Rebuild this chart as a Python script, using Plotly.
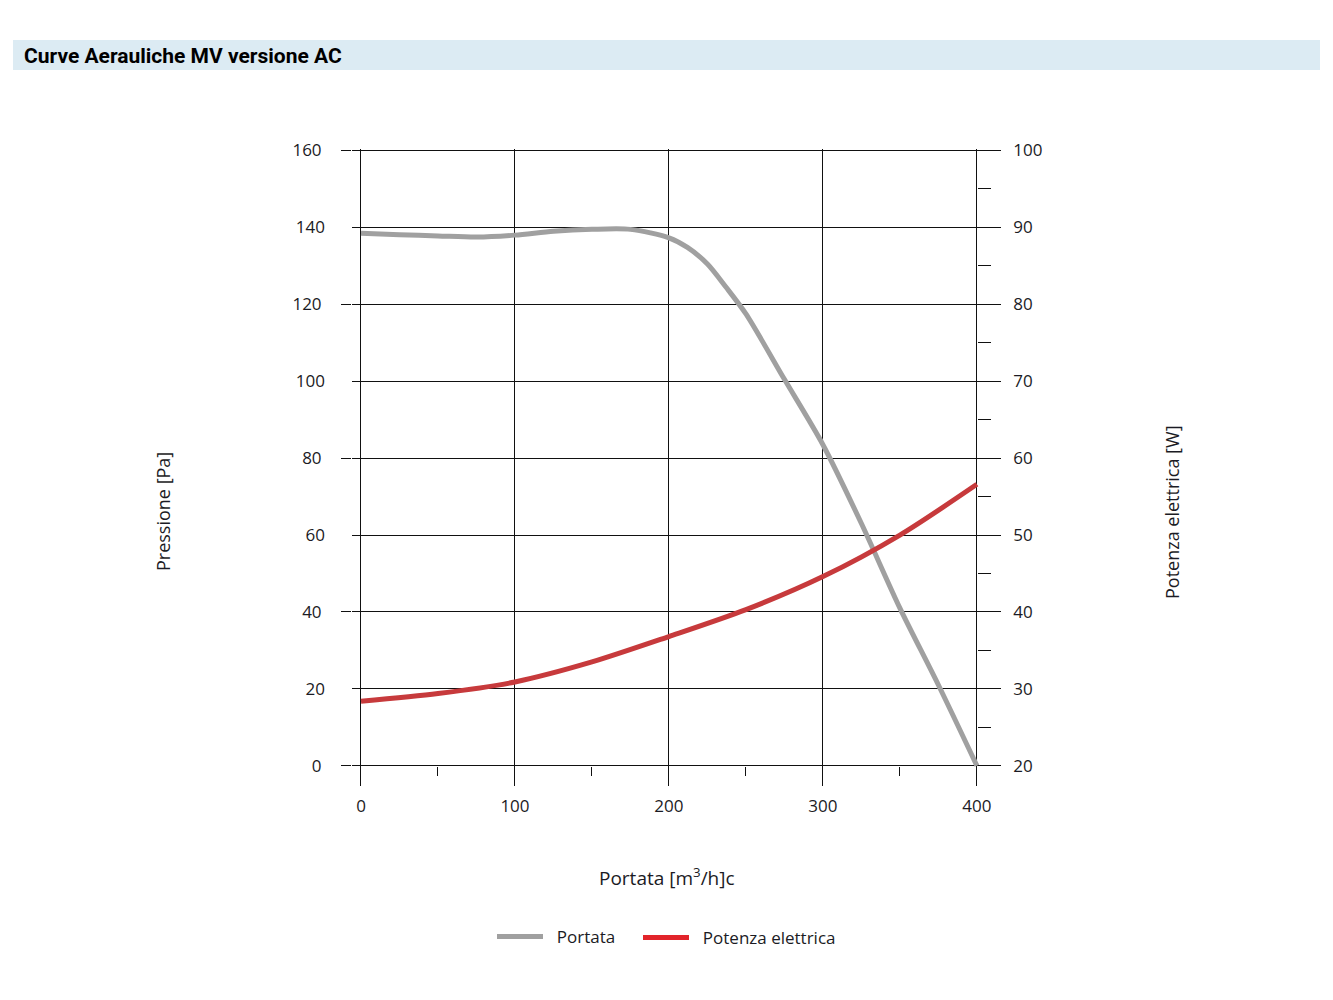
import plotly.graph_objects as go

# portata curve (pressione, Pa) and potenza elettrica (W) vs portata m3/h
flow_p = [0, 25, 50, 75, 100, 125, 150, 175, 200, 212, 225, 237, 250, 275, 300, 325, 350, 375, 400]
pressione = [138.5, 138.1, 137.8, 137.5, 138, 139, 139.5, 139.5, 137.3, 134.8, 130.5, 124.5, 117.5,
             100.5, 83.5, 63, 41, 21, 0]

flow_w = [0, 50, 100, 150, 200, 250, 300, 350, 400]
potenza = [28.4, 29.4, 30.9, 33.5, 36.8, 40.3, 44.6, 50, 56.6]

x_ticks = [0, 100, 200, 300, 400]
x_minor = [50, 150, 250, 350]
y_long_ticks = [0, 40, 80, 120, 160]
y_short_ticks = [20, 60, 100, 140]
y2_ticks = [20, 30, 40, 50, 60, 70, 80, 90, 100]

xr = [-5.84, 415]
yr = [-5, 160.4]
y2r = [20 + yr[0] / 2, 20 + yr[1] / 2]

font = "Open Sans"
txt = "#1b1b24"
ink = "#111"

# page is offset 8px by the browser body margin
W, H = 1325, 992
L, T, PW, PH = 344, 141, 648, 636


def px(x):
    return (x - 8 - L) / PW


def py(y):
    return (T + PH - (y - 8)) / PH


fig = go.Figure()
fig.add_trace(go.Scatter(
    x=flow_p, y=pressione, name="Portata", mode="lines", showlegend=False,
    line=dict(color="#a0a0a0", width=5, shape="spline", smoothing=0.8),
))
fig.add_trace(go.Scatter(
    x=flow_w, y=potenza, name="Potenza elettrica", mode="lines", yaxis="y2", showlegend=False,
    line=dict(color="#c73a3c", width=5, shape="spline", smoothing=0.8),
))
# legend swatches (the first also carries the short-tick left axis)
fig.add_trace(go.Scatter(x=[None], y=[None], name="\u00a0\u00a0Portata", mode="lines", yaxis="y3",
                         line=dict(color="#a0a0a0", width=5), legend="legend"))
fig.add_trace(go.Scatter(x=[None], y=[None], name="\u00a0\u00a0Potenza elettrica", mode="lines",
                         line=dict(color="#e2242b", width=5), legend="legend2"))

fig.update_layout(
    width=W, height=H,
    margin=dict(l=L, r=W - L - PW, t=T, b=H - T - PH),
    paper_bgcolor="white", plot_bgcolor="white",
    font=dict(family=font, size=17, color=txt),
    xaxis=dict(
        range=xr, tickvals=x_ticks, showgrid=True, gridcolor=ink, gridwidth=1.3,
        zeroline=False, showline=False,
        anchor="free", position=(0 - yr[0]) / (yr[1] - yr[0]),
        ticks="outside", ticklen=19, tickcolor=ink, tickwidth=1.3,
        minor=dict(tickvals=x_minor, ticks="outside", ticklen=9,
                   tickcolor=ink, tickwidth=1.3),
        ticklabelstandoff=6,
    ),
    yaxis=dict(
        range=yr, tickvals=y_long_ticks, showgrid=True, gridcolor=ink, gridwidth=1.3,
        zeroline=False, showline=False, ticks="outside", ticklen=10,
        tickcolor=ink, tickwidth=1.3, ticklabelstandoff=16,
    ),
    yaxis3=dict(
        range=yr, tickvals=y_short_ticks, overlaying="y", side="left", anchor="x",
        showgrid=True, gridcolor=ink, gridwidth=1.3, zeroline=False, showline=False,
        ticks="", ticklabelstandoff=26,
    ),
    yaxis2=dict(
        range=y2r, tickvals=y2_ticks, overlaying="y", side="right",
        anchor="free", position=(400 - xr[0]) / (xr[1] - xr[0]),
        showgrid=False, zeroline=False, showline=False,
        ticks="outside", ticklen=23, tickcolor=ink, tickwidth=1.3,
        minor=dict(dtick=5, ticks="outside", ticklen=13, tickcolor=ink, tickwidth=1.3),
        ticklabelstandoff=9,
    ),
    legend=dict(x=px(492), xanchor="left", y=py(937), yanchor="middle",
                font=dict(size=17), itemwidth=46),
    legend2=dict(x=px(638), xanchor="left", y=py(938), yanchor="middle",
                 font=dict(size=17), itemwidth=46),
)

# header bar
fig.add_shape(type="rect", xref="paper", yref="paper",
              x0=px(13), x1=px(1320), y0=py(70), y1=py(40),
              fillcolor="#dcebf3", line_width=0, layer="below")
fig.add_annotation(text="<b>Curve Aerauliche MV versione AC</b>", xref="paper", yref="paper",
                   x=px(22), y=py(56), xanchor="left", yanchor="middle",
                   showarrow=False, font=dict(family="Roboto", size=21, color="#000", weight=900))

# axis titles
fig.add_annotation(text="Pressione [Pa]", xref="paper", yref="paper",
                   x=px(163), y=py(512), xanchor="center", yanchor="middle",
                   textangle=-90, showarrow=False, font=dict(size=18))
fig.add_annotation(text="Potenza elettrica [W]", xref="paper", yref="paper",
                   x=px(1172), y=py(512), xanchor="center", yanchor="middle",
                   textangle=-90, showarrow=False, font=dict(size=18))
fig.add_annotation(text="Portata [m<sup>3</sup>/h]c", xref="paper", yref="paper",
                   x=px(667), y=py(877), xanchor="center", yanchor="middle",
                   showarrow=False, font=dict(size=19))

fig.write_html("out.html")
